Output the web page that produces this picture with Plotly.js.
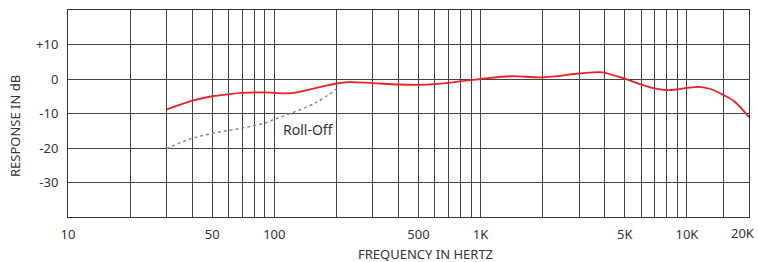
<!DOCTYPE html>
<html>
<head>
<meta charset="utf-8">
<script src="https://cdn.plot.ly/plotly-3.0.1.min.js"></script>
<style>html,body{margin:0;padding:0;background:#fff;}#chart{width:758px;height:262px;}</style>
</head>
<body>
<div id="chart"></div>
<script>
// Main frequency response
const respFreq = [30,40,50,60,70,90,100,120,160,200,230,300,400,500,600,700,890,1000,1400,2000,3000,3800,4000,5000,6000,7000,8000,9000,10000,11500,13000,15000,17000,20000];
const respDb   = [-8.9,-6.3,-5.0,-4.4,-4.0,-3.9,-4.0,-4.1,-2.6,-1.3,-0.9,-1.2,-1.6,-1.7,-1.5,-1.1,-0.3,0,0.8,0.5,1.6,2.0,1.8,0.1,-1.6,-2.7,-3.2,-3.0,-2.6,-2.3,-2.9,-4.6,-6.5,-11.1];
// Roll-off (low-cut) curve
const rollFreq = [30,40,50,60,70,80,90,100,123,160,200];
const rollDb   = [-20.2,-17.2,-15.8,-14.9,-14.2,-13.5,-12.8,-11.7,-9.7,-6.8,-2.9];
// Grid positions and labels
const xGrid = [10,20,30,40,50,60,70,80,90,100,200,300,400,500,600,700,800,900,1000,2000,3000,4000,5000,6000,7000,8000,9000,10000,15000,20000];
const xLabeled = {10:"10",50:"50",100:"100",500:"500",1000:"1K",5000:"5K",10000:"10K"};
const xLastLabel = "20K";
const yTicks = [-40,-30,-20,-10,0,10,20];
const yLabels = ["","-30","-20","-10","0","+10",""];
const rollLabel = "Roll-Off";
const xTitle = "FREQUENCY IN HERTZ";
const yTitle = "RESPONSE IN dB";

const font = "Noto Sans, sans-serif";
const traces = [
  {x: rollFreq, y: rollDb, mode: "lines", line: {color: "#8a8a8a", width: 1.5, dash: "3px,3px", shape: "spline"}, hoverinfo: "skip"},
  {x: respFreq, y: respDb, mode: "lines", line: {color: "#e8212b", width: 1.8, shape: "spline", smoothing: 1}, hoverinfo: "skip"}
];
const layout = {
  width: 758, height: 262,
  margin: {l: 68, r: 9, t: 10, b: 45},
  paper_bgcolor: "#fff", plot_bgcolor: "#fff",
  showlegend: false,
  font: {family: font, size: 13, color: "#333"},
  xaxis: {
    type: "log", range: [1, Math.log10(20000)],
    tickmode: "array", tickvals: xGrid, ticktext: xGrid.map(v => xLabeled[v] || ""),
    showgrid: true, gridcolor: "#444", gridwidth: 1,
    showline: true, mirror: true, linecolor: "#333", linewidth: 1,
    ticks: "", zeroline: false, ticklabelstandoff: 5,
    tickfont: {size: 13, color: "#333"}
  },
  yaxis: {
    range: [-40, 20], tickmode: "array", tickvals: yTicks, ticktext: yLabels,
    showgrid: true, gridcolor: "#444", gridwidth: 1,
    showline: true, mirror: true, linecolor: "#333", linewidth: 1,
    ticks: "", zeroline: false, ticklabelstandoff: 6, tickfont: {size: 13, color: "#333"}
  },
  annotations: [
    {text: rollLabel, xref: "x", yref: "y", x: Math.log10(147), y: -14.7, showarrow: false, font: {size: 14, color: "#333"}},
    {text: xLastLabel, xref: "paper", yref: "paper", x: (757-68)/681, y: (217-233)/207, xanchor: "right", yanchor: "middle", showarrow: false, font: {size: 13, color: "#333"}},
    {text: xTitle, xref: "paper", yref: "paper", x: (425-68)/681, y: (217-254.5)/207, xanchor: "center", yanchor: "middle", showarrow: false, font: {size: 13, color: "#333"}},
    {text: yTitle, xref: "paper", yref: "paper", x: (15-68)/681, y: (217-126)/207, xanchor: "center", yanchor: "middle", textangle: -90, showarrow: false, font: {size: 13, color: "#333"}}
  ]
};
Plotly.newPlot("chart", traces, layout, {staticPlot: true, displayModeBar: false});
</script>
</body>
</html>
